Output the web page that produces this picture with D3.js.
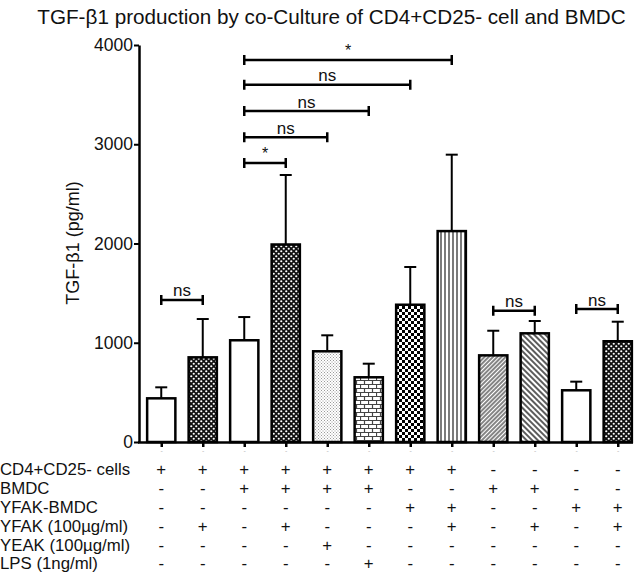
<!DOCTYPE html>
<html><head><meta charset="utf-8">
<script src="https://cdn.jsdelivr.net/npm/d3@7"></script>
<style>body{margin:0;background:#fff}svg{display:block;font-family:"Liberation Sans",Arial,sans-serif}</style>
</head><body><svg id="c" width="640" height="574"></svg>
<script>
const categories = ["1","2","3","4","5","6","7","8","9","10","11","12"];
const means = [440, 853, 1025, 1990, 914, 652, 1383, 2125, 873, 1095, 521, 1015];
const sems  = [111, 386, 234, 700, 161, 137, 380, 770, 248, 124, 87, 197];
const fills = ["white","xhatch","white","xhatch","stipple","brick","checker","vlines","diag1","diag2","white","xhatch"];
const yTicks = [0, 1000, 2000, 3000, 4000];
const rowLabels = ["CD4+CD25- cells","BMDC","YFAK-BMDC","YFAK (100µg/ml)","YEAK (100µg/ml)","LPS (1ng/ml)"];
const rowSymbols = [
  ["+","+","+","+","+","+","+","+","-","-","-","-"],
  ["-","-","+","+","+","+","-","-","+","+","-","-"],
  ["-","-","-","-","-","-","+","+","-","-","+","+"],
  ["-","+","-","+","-","-","-","+","-","+","-","+"],
  ["-","-","-","-","+","-","-","-","-","-","-","-"],
  ["-","-","-","-","-","+","-","-","-","-","-","-"]
];
const comparisons = [
  [0,1,1431,"ns"],[2,3,2810,"*"],[2,4,3070,"ns"],[2,5,3335,"ns"],
  [2,6,3600,"ns"],[2,7,3850,"*"],[8,9,1323,"ns"],[10,11,1340,"ns"]
];
const title = "TGF-β1 production by co-Culture of CD4+CD25- cell and BMDC";
const yLabel = "TGF-β1 (pg/ml)";

const svg = d3.select("#c");
const defs = svg.append("defs");
function pat(id, w, h, tr){ const p = defs.append("pattern").attr("id",id).attr("patternUnits","userSpaceOnUse").attr("width",w).attr("height",h); if(tr) p.attr("patternTransform",tr); p.append("rect").attr("width",w).attr("height",h).attr("fill","#fff"); return p; }
let p;
p = pat("xhatch",5,5); p.select("rect").attr("fill","#111");
p.append("circle").attr("cx",1.25).attr("cy",1.25).attr("r",1.1).attr("fill","#fff");
p.append("circle").attr("cx",3.75).attr("cy",3.75).attr("r",1.1).attr("fill","#fff");
p = pat("stipple",3,3);
p.append("rect").attr("x",0).attr("y",0).attr("width",1).attr("height",1).attr("fill","#999");
p.append("rect").attr("x",1.5).attr("y",1.5).attr("width",1).attr("height",1).attr("fill","#999");
p = pat("brick",8,8);
p.append("path").attr("d","M0,0.5H8M0,4.5H8M0.5,0.5V4.5M4.5,4.5V8.5").attr("stroke","#444").attr("stroke-width",1.2).attr("fill","none");
p = pat("checker",6,6);
p.append("rect").attr("width",3).attr("height",3).attr("fill","#000");
p.append("rect").attr("x",3).attr("y",3).attr("width",3).attr("height",3).attr("fill","#000");
p = pat("vlines",4,4);
p.append("line").attr("x1",1).attr("x2",1).attr("y1",0).attr("y2",4).attr("stroke","#222").attr("stroke-width",1.2);
p = pat("diag1",3,3,"rotate(45)");
p.append("line").attr("x1",1).attr("x2",1).attr("y1",0).attr("y2",3).attr("stroke","#333").attr("stroke-width",1.2);
p = pat("diag2",4,4,"rotate(-45)");
p.append("line").attr("x1",1).attr("x2",1).attr("y1",0).attr("y2",4).attr("stroke","#333").attr("stroke-width",1.6);

const y = d3.scaleLinear().domain([0,4000]).range([442,45]);
const x = d3.scalePoint().domain(categories).range([140.5,638.5]).padding(0.5);
const bw = x.step()*0.68;

// title
svg.append("text").attr("x",331.5).attr("y",24).attr("text-anchor","middle").attr("font-size",20.7).attr("fill","#111").text(title);
// y label
svg.append("text").attr("transform","translate(79,243) rotate(-90)").attr("text-anchor","middle").attr("font-size",18).attr("fill","#111").text(yLabel);

// bars
const g = svg.append("g");
g.selectAll("line.err").data(means).join("line").attr("class","err")
  .attr("x1",(d,i)=>x(categories[i])).attr("x2",(d,i)=>x(categories[i]))
  .attr("y1",d=>y(d)).attr("y2",(d,i)=>y(d+sems[i])).attr("stroke","#000").attr("stroke-width",2);
g.selectAll("line.cap").data(means).join("line").attr("class","cap")
  .attr("x1",(d,i)=>x(categories[i])-6).attr("x2",(d,i)=>x(categories[i])+6)
  .attr("y1",(d,i)=>y(d+sems[i])).attr("y2",(d,i)=>y(d+sems[i])).attr("stroke","#000").attr("stroke-width",2);
g.selectAll("rect.bar").data(means).join("rect").attr("class","bar")
  .attr("x",(d,i)=>x(categories[i])-bw/2).attr("width",bw)
  .attr("y",d=>y(d)).attr("height",d=>y(0)-y(d))
  .attr("fill",(d,i)=>fills[i]==="white"?"#fff":`url(#${fills[i]})`)
  .attr("stroke","#000").attr("stroke-width",2.5);

// axes
const ya = svg.append("g").attr("transform","translate(139,0)")
  .call(d3.axisLeft(y).tickValues(yTicks).tickSize(5).tickSizeOuter(0).tickFormat(d3.format("d")));
ya.attr("font-family",null).attr("font-size",null);
ya.select(".domain").attr("stroke-width",2.5);
ya.selectAll(".tick line").attr("stroke-width",2);
ya.selectAll(".tick text").attr("font-size",17.5).attr("fill","#111").attr("x",-6);
const xa = svg.append("g").attr("transform","translate(0,442)")
  .call(d3.axisBottom(x).tickSize(5).tickSizeOuter(0).tickFormat(()=>"-"));
xa.attr("font-family",null);
xa.select(".domain").attr("stroke-width",2.5).attr("d","M138,0.5H633");
xa.selectAll(".tick line").attr("stroke-width",2.5);
xa.selectAll(".tick text").attr("font-size",7).attr("fill","#bbb").attr("y",6);

// comparisons
const cg = svg.append("g");
comparisons.forEach(([a,b,v,lab])=>{
  const x1=x(categories[a]), x2=x(categories[b]), yy=y(v);
  cg.append("path").attr("d",`M${x1},${yy}H${x2}M${x1},${yy-5}V${yy+5}M${x2},${yy-5}V${yy+5}`)
    .attr("stroke","#000").attr("stroke-width",2.5).attr("fill","none");
  cg.append("text").attr("x",(x1+x2)/2).attr("y",yy-(lab==="*"?4:3.5)).attr("text-anchor","middle")
    .attr("font-size",lab==="*"?16:17).attr("fill","#111").text(lab);
});

// table
const rowY = [475, 494, 513, 532, 551, 569];
rowLabels.forEach((lab,r)=>{
  svg.append("text").attr("x",0).attr("y",rowY[r]).attr("font-size",16.8).attr("fill","#111").text(lab);
  svg.selectAll(null).data(rowSymbols[r]).join("text")
    .attr("x",(d,i)=>x(categories[i])).attr("y",rowY[r]).attr("text-anchor","middle")
    .attr("font-size",16.8).attr("fill","#111").text(d=>d);
});
</script></body></html>
